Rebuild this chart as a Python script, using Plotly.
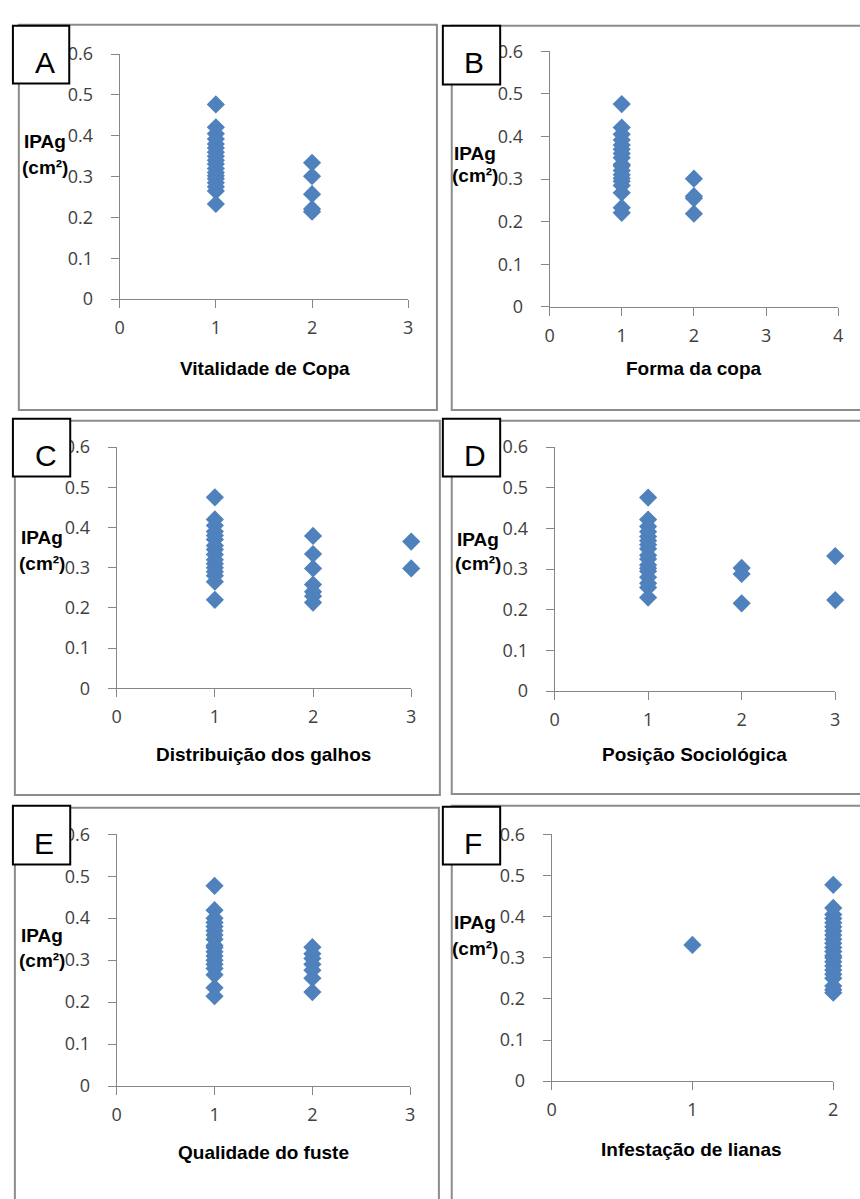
import plotly.graph_objects as go

W, H = 860, 1199
BLUE = "#4F81BD"
AXIS_GRAY = "#868686"
FRAME_GRAY = "#8C8C8C"

# ---- data: IPAg (cm²) by class of each qualitative variable ----
vitalidade_classes = [1, 2]
vitalidade_ipag = [
    [0.477, 0.421, 0.405, 0.392, 0.380, 0.370, 0.360, 0.350, 0.340, 0.331,
     0.320, 0.310, 0.302, 0.295, 0.285, 0.275, 0.265, 0.233],
    [0.334, 0.301, 0.257, 0.221, 0.214],
]

forma_classes = [1, 2]
forma_ipag = [
    [0.476, 0.421, 0.405, 0.392, 0.380, 0.370, 0.360, 0.350, 0.334, 0.331,
     0.320, 0.310, 0.302, 0.295, 0.285, 0.268, 0.233, 0.221],
    [0.301, 0.260, 0.255, 0.219],
]

galhos_classes = [1, 2, 3]
galhos_ipag = [
    [0.475, 0.420, 0.405, 0.390, 0.380, 0.370, 0.355, 0.345, 0.333, 0.320,
     0.310, 0.300, 0.290, 0.280, 0.265, 0.220],
    [0.379, 0.334, 0.298, 0.258, 0.240, 0.229, 0.213],
    [0.365, 0.298],
]

posicao_classes = [1, 2, 3]
posicao_ipag = [
    [0.476, 0.422, 0.405, 0.392, 0.380, 0.370, 0.360, 0.350, 0.334, 0.325,
     0.310, 0.302, 0.295, 0.280, 0.265, 0.255, 0.230],
    [0.303, 0.288, 0.216],
    [0.332, 0.224],
]

fuste_classes = [1, 2]
fuste_ipag = [
    [0.477, 0.419, 0.400, 0.390, 0.380, 0.370, 0.360, 0.350, 0.335, 0.330,
     0.320, 0.310, 0.300, 0.290, 0.280, 0.265, 0.234, 0.214],
    [0.331, 0.315, 0.304, 0.290, 0.276, 0.257, 0.224],
]

lianas_classes = [1, 2]
lianas_ipag = [
    [0.331],
    [0.477, 0.421, 0.405, 0.395, 0.385, 0.375, 0.365, 0.355, 0.345, 0.335,
     0.325, 0.315, 0.305, 0.300, 0.290, 0.280, 0.270, 0.260, 0.250, 0.231,
     0.222, 0.215],
]

y_ticks = [0, 0.1, 0.2, 0.3, 0.4, 0.5, 0.6]
y_tick_text = ["0", "0.1", "0.2", "0.3", "0.4", "0.5", "0.6"]


def px(x):
    return x / W


def py(y):
    return 1 - y / H


# pixel geometry of each panel: plot area, outer frame, letter box, y-label spot
panels = [
    dict(letter="A", title="Vitalidade de Copa", classes=vitalidade_classes,
         values=vitalidade_ipag, xmax=3,
         plot=(116, 408, 292, 42), frame=(14, 437, 12, 405),
         box=(8, 65, 13, 72), letter_xy=(40, 51), ylab=(40, 131, 158),
         title_xy=(263, 363)),
    dict(letter="B", title="Forma da copa", classes=forma_classes,
         values=forma_ipag, xmax=4,
         plot=(551, 843, 300, 39), frame=(452, 880, 13, 405),
         box=(443, 501, 13, 73), letter_xy=(475, 51), ylab=(476, 143, 166),
         title_xy=(697, 363)),
    dict(letter="C", title="Distribuição dos galhos", classes=galhos_classes,
         values=galhos_ipag, xmax=3,
         plot=(113, 411, 689, 443), frame=(10, 440, 416, 798),
         box=(8, 66, 414, 473), letter_xy=(41, 452), ylab=(37, 535, 562),
         title_xy=(262, 757)),
    dict(letter="D", title="Posição Sociológica", classes=posicao_classes,
         values=posicao_ipag, xmax=3,
         plot=(556, 840, 692, 443), frame=(452, 880, 416, 797),
         box=(443, 501, 414, 473), letter_xy=(476, 452), ylab=(479, 537, 562),
         title_xy=(698, 757)),
    dict(letter="E", title="Qualidade do fuste", classes=fuste_classes,
         values=fuste_ipag, xmax=3,
         plot=(113, 410, 1095, 838), frame=(10, 439, 811, 1230),
         box=(8, 66, 809, 869), letter_xy=(39, 847), ylab=(37, 941, 967),
         title_xy=(262, 1163)),
    dict(letter="F", title="Infestação de lianas", classes=lianas_classes,
         values=lianas_ipag, xmax=2,
         plot=(553, 838, 1090, 838), frame=(452, 880, 809, 1230),
         box=(443, 501, 810, 869), letter_xy=(474, 847), ylab=(476, 928, 955),
         title_xy=(695, 1160)),
]

TICK_FONT = dict(family="Open Sans, Calibri, sans-serif", size=18, color="#404040")
BOLD_FONT = dict(family="Liberation Sans, Arial, sans-serif", size=19,
                 color="#000000", weight="bold")

fig = go.Figure()
layout = dict(
    width=W, height=H,
    margin=dict(l=0, r=0, t=0, b=0),
    paper_bgcolor="white", plot_bgcolor="white",
    showlegend=False,
)
shapes = []
annotations = []

for i, p in enumerate(panels):
    n = "" if i == 0 else str(i + 1)
    xref, yref = "x" + n, "y" + n
    xs, ys = [], []
    for cls, vals in zip(p["classes"], p["values"]):
        xs.extend([cls] * len(vals))
        ys.extend(vals)
    fig.add_trace(go.Scatter(
        x=xs, y=ys, mode="markers", xaxis=xref, yaxis=yref,
        marker=dict(symbol="diamond", size=14, color=BLUE, line=dict(width=0)),
        cliponaxis=False, hoverinfo="x+y",
    ))

    x0, x1, y0, y1 = p["plot"]
    layout["xaxis" + n] = dict(
        domain=[px(x0), px(x1)], range=[0, p["xmax"]], anchor=yref,
        tickmode="array", tickvals=list(range(p["xmax"] + 1)),
        showline=True, linecolor=AXIS_GRAY, linewidth=1,
        ticks="outside", ticklen=8, tickcolor=AXIS_GRAY, tickwidth=1,
        showgrid=False, zeroline=False, tickfont=TICK_FONT,
        ticklabelstandoff=4, fixedrange=True,
    )
    layout["yaxis" + n] = dict(
        domain=[py(y0), py(y1)], range=[0, 0.6], anchor=xref,
        tickmode="array", tickvals=y_ticks, ticktext=y_tick_text,
        showline=True, linecolor=AXIS_GRAY, linewidth=1,
        ticks="outside", ticklen=8, tickcolor=AXIS_GRAY, tickwidth=1,
        showgrid=False, zeroline=False, tickfont=TICK_FONT,
        ticklabelstandoff=14, fixedrange=True,
    )

    # outer frame of the panel
    fx0, fx1, fy0, fy1 = p["frame"]
    shapes.append(dict(type="rect", xref="paper", yref="paper",
                       x0=px(fx0), x1=px(fx1), y0=py(fy0), y1=py(fy1),
                       line=dict(color=FRAME_GRAY, width=2),
                       fillcolor="rgba(0,0,0,0)", layer="above"))
    # letter box
    bx0, bx1, by0, by1 = p["box"]
    shapes.append(dict(type="rect", xref="paper", yref="paper",
                       x0=px(bx0), x1=px(bx1), y0=py(by0), y1=py(by1),
                       line=dict(color="#000000", width=2),
                       fillcolor="white", layer="above"))
    lx, ly = p["letter_xy"]
    annotations.append(dict(text=p["letter"], xref="paper", yref="paper",
                            x=px(lx), y=py(ly), xanchor="center", yanchor="middle",
                            showarrow=False,
                            font=dict(family="Liberation Sans, Arial, sans-serif",
                                      size=30, color="#000000")))
    # y-axis label
    yx, yy1, yy2 = p["ylab"]
    annotations.append(dict(text="IPAg", xref="paper", yref="paper",
                            x=px(yx), y=py(yy1), xanchor="center", yanchor="middle",
                            showarrow=False, font=BOLD_FONT))
    annotations.append(dict(text="(cm²)", xref="paper", yref="paper",
                            x=px(yx), y=py(yy2), xanchor="center", yanchor="middle",
                            showarrow=False, font=BOLD_FONT))
    # x-axis title
    tx, ty = p["title_xy"]
    annotations.append(dict(text=p["title"], xref="paper", yref="paper",
                            x=px(tx), y=py(ty), xanchor="center", yanchor="middle",
                            showarrow=False, font=BOLD_FONT))

layout["shapes"] = shapes
layout["annotations"] = annotations
fig.update_layout(**layout)
fig.write_html("out.html")
